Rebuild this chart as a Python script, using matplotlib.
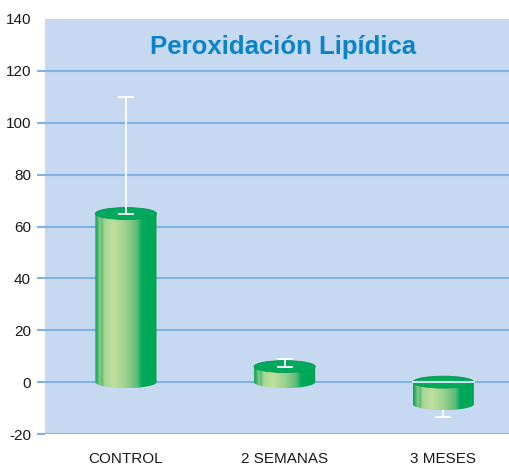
import numpy as np
import matplotlib.pyplot as plt
from matplotlib.path import Path
from matplotlib.patches import Ellipse, PathPatch
from matplotlib.colors import LinearSegmentedColormap

plt.rcParams['font.family'] = ['Liberation Sans', 'DejaVu Sans']

# data
groups = ["CONTROL", "2 SEMANAS", "3 MESES"]
values = [65, 6, -8.5]
err_up = [45, 3, 0]
err_down = [0, 0, 5]
y_ticks = [-20, 0, 20, 40, 60, 80, 100, 120, 140]

title = "Peroxidación Lipídica"

BG = "#c6d9f1"
GRID = "#80b3e3"
TOP = "#00a95b"

# horizontal shading of the cylinder body
shade = LinearSegmentedColormap.from_list("cyl", [
    (0.00, "#00a651"), (0.04, "#3db56a"), (0.08, "#8fcc88"),
    (0.11, "#55bb76"), (0.15, "#a6d692"), (0.30, "#bfe0a0"),
    (0.50, "#9bd08e"), (0.68, "#5fbc79"), (0.76, "#00aa5c"),
    (1.00, "#00a651")])

fig = plt.figure(figsize=(5.10, 4.66), dpi=100)
ax = fig.add_axes([45 / 510, 32 / 466, 465 / 510, 415 / 466])
ax.set_facecolor(BG)
for s in ax.spines.values():
    s.set_visible(False)

ax.set_xlim(-0.51, 2.42)
ax.set_ylim(-20, 140)
ax.set_yticks(y_ticks)
ax.set_yticklabels([str(t) for t in y_ticks], fontsize=11, color="#1a1a1a")
ax.set_xticks(range(len(groups)))
ax.set_xticklabels(groups, fontsize=11, color="#1a1a1a")
ax.tick_params(axis="x", length=0, pad=13)
ax.tick_params(axis="y", length=6, width=1.5, color=GRID, pad=4)
ax.yaxis.get_major_ticks()[-1].tick1line.set_visible(False)

for t in y_ticks[:-1]:
    ax.axhline(t, color=GRID, lw=1.5, zorder=1)

w = 0.385   # cylinder width (data units)
eh = 2.3    # half height of the ellipses (data units)
grad = np.linspace(0, 1, 256).reshape(1, -1)
theta = np.linspace(np.pi, 2 * np.pi, 60)

for i, v in enumerate(values):
    lo, hi = min(0, v), max(0, v)
    x0, x1 = i - w / 2, i + w / 2
    arc = np.column_stack([i + w / 2 * np.cos(theta), lo + eh * np.sin(theta)])
    verts = np.vstack([[x0, hi], arc, [x1, hi], [x0, hi]])
    body = PathPatch(Path(verts, closed=True), facecolor="none", edgecolor="none")
    ax.add_patch(body)
    im = ax.imshow(grad, cmap=shade, aspect="auto", zorder=3,
                   extent=[x0, x1, lo - eh, hi], interpolation="bilinear")
    im.set_clip_path(body)
    ax.add_patch(Ellipse((i, hi), w, 2 * eh, facecolor=TOP,
                         edgecolor="#009a50", lw=0.6, zorder=4))
    if hi == 0:
        ax.plot([x0, x1], [0, 0], color="#cfe2f2", lw=1.5, zorder=5)
    # error bars of negative bars sit behind the cylinder
    ax.errorbar([i], [v], yerr=[[err_down[i]], [err_up[i]]], fmt="none",
                ecolor="white", elinewidth=1.3, capsize=5.5, capthick=1.3,
                zorder=6 if v >= 0 else 2)

ax.set_xlim(-0.51, 2.42)
ax.set_ylim(-20, 140)

ax.text(0.512, 0.933, title, transform=ax.transAxes, ha="center", va="center",
        fontsize=18.5, fontweight="bold", color="#0a84c6", zorder=7)

fig.savefig("out.png", dpi=100)
